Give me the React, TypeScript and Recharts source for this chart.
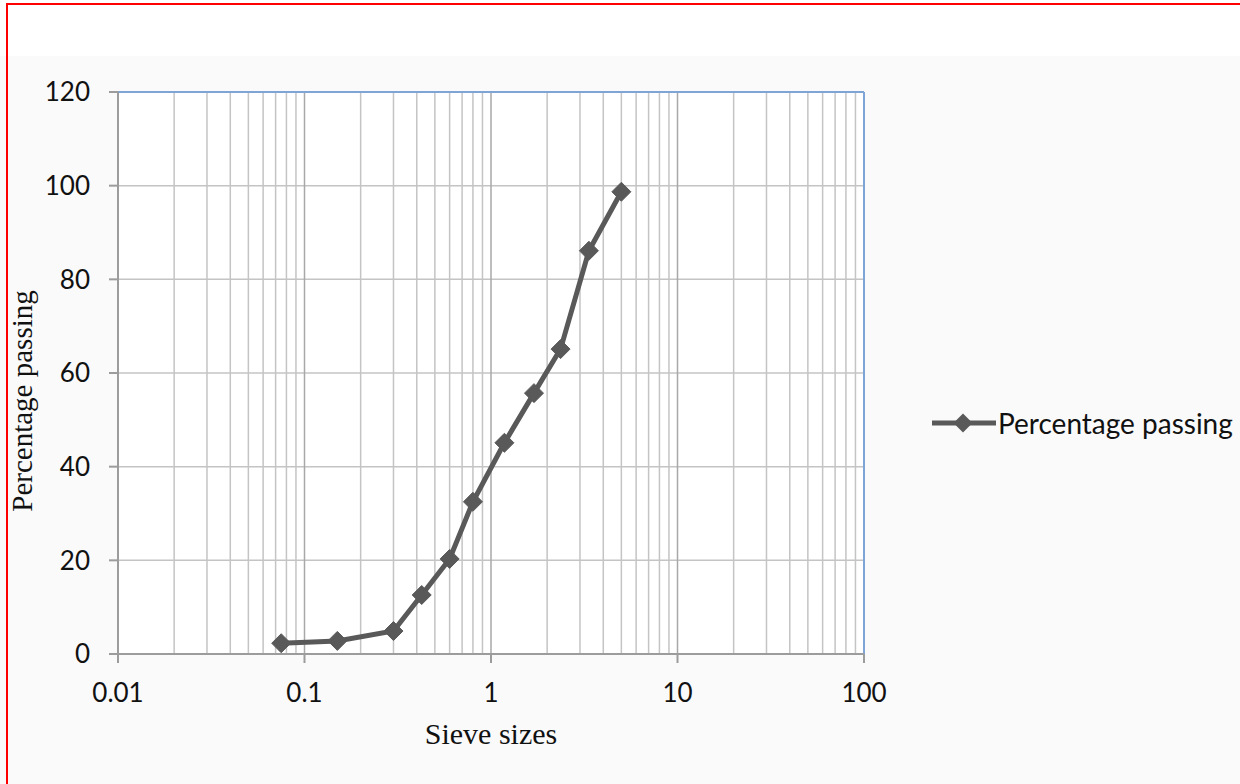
import React from 'react';
import { LineChart, Line, XAxis, YAxis, CartesianGrid, ReferenceLine, Label } from 'recharts';

// sieve analysis: size (mm) vs percentage passing
const sieveSizes = [0.075, 0.15, 0.3, 0.425, 0.6, 0.8, 1.18, 1.7, 2.36, 3.35, 5];
const percentPassing = [2.3, 2.8, 4.9, 12.6, 20.3, 32.5, 45.1, 55.7, 65.1, 86.1, 98.7];

const xTicks = [0.01, 0.1, 1, 10, 100];
const yTicks = [0, 20, 40, 60, 80, 100, 120];
const decades = [0.01, 0.1, 1, 10];
const minorSteps = [2, 3, 4, 5, 6, 7, 8, 9];

const data = sieveSizes.map((size, i) => ({ size, pct: percentPassing[i] }));
const minorLines = decades.flatMap((d) => minorSteps.map((m) => +(d * m).toPrecision(3)));

const lineColor = '#595959';
const gridColor = '#c4c4c4';
const axisColor = '#9c9c9c';
const borderBlue = '#7fa5d6';
const tickStyle = { fontFamily: 'Lato, sans-serif', fontSize: 26, fill: '#111' };

const Diamond = (props: any) => {
  const { cx, cy } = props;
  if (cx == null || cy == null) return null;
  const r = 9.5;
  return (
    <polygon
      points={`${cx},${cy - r} ${cx + r},${cy} ${cx},${cy + r} ${cx - r},${cy}`}
      fill={lineColor}
      stroke={lineColor}
    />
  );
};

const App = () => {
  return (
    <div
      style={{
        position: 'absolute',
        left: 0,
        top: 0,
        width: 1240,
        height: 784,
        background: 'linear-gradient(#ffffff 0px, #ffffff 56px, #fafafa 56px)',
        overflow: 'hidden',
      }}
    >
      <div
        style={{
          position: 'absolute',
          left: 6,
          top: 3,
          width: 1240,
          height: 800,
          borderLeft: '2px solid #ff0000',
          borderTop: '2px solid #ff0000',
          pointerEvents: 'none',
          zIndex: 2,
        }}
      />
      <LineChart
        width={1240}
        height={784}
        data={data}
        margin={{ top: 92, right: 376, bottom: 70, left: 38 }}
      >
        <CartesianGrid vertical={false} stroke={gridColor} strokeWidth={1.5} fill="#ffffff" />
        {minorLines.map((v) => (
          <ReferenceLine key={'m' + v} x={v} stroke={gridColor} strokeWidth={1.5} />
        ))}
        {xTicks.slice(1, 4).map((v) => (
          <ReferenceLine key={'d' + v} x={v} stroke="#a8a8a8" strokeWidth={1.5} />
        ))}
        <ReferenceLine y={120} stroke={borderBlue} strokeWidth={2} />
        <ReferenceLine x={100} stroke={borderBlue} strokeWidth={2} />
        <XAxis
          dataKey="size"
          type="number"
          scale="log"
          domain={[0.01, 100]}
          ticks={xTicks}
          allowDataOverflow
          height={60}
          stroke={axisColor}
          strokeWidth={2}
          tickSize={9}
          tickMargin={21}
          tick={tickStyle}
          tickFormatter={(v: number) => String(v)}
        >
          <Label
            content={({ viewBox }: any) => (
              <text
                x={viewBox.x + viewBox.width / 2}
                y={viewBox.y + 90}
                textAnchor="middle"
                fontFamily="'Liberation Serif', serif"
                fontSize={30}
                fill="#111"
              >
                Sieve sizes
              </text>
            )}
          />
        </XAxis>
        <YAxis
          type="number"
          domain={[0, 120]}
          ticks={yTicks}
          width={80}
          stroke={axisColor}
          strokeWidth={2}
          tickSize={9}
          tickMargin={19}
          tick={tickStyle}
        >
          <Label
            content={({ viewBox }: any) => {
              const x = 32;
              const y = viewBox.y + viewBox.height / 2 + 28;
              return (
                <text
                  x={x}
                  y={y}
                  transform={`rotate(-90 ${x} ${y})`}
                  textAnchor="middle"
                  fontFamily="'Liberation Serif', serif"
                  fontSize={29}
                  fill="#111"
                >
                  Percentage passing
                </text>
              );
            }}
          />
        </YAxis>
        <Line
          dataKey="pct"
          name="Percentage passing"
          stroke={lineColor}
          strokeWidth={5}
          dot={<Diamond />}
          activeDot={false}
          isAnimationActive={false}
        />
      </LineChart>
      <div
        style={{
          position: 'absolute',
          left: 930,
          top: 406,
          display: 'flex',
          alignItems: 'center',
          fontFamily: 'Lato, sans-serif',
          fontSize: 28,
          color: '#111',
        }}
      >
        <svg width={68} height={30} style={{ display: 'block' }}>
          <line x1={2} y1={15} x2={66} y2={15} stroke={lineColor} strokeWidth={5} />
          <polygon points="33,5.5 42.5,15 33,24.5 23.5,15" fill={lineColor} />
        </svg>
        <span>Percentage passing</span>
      </div>
    </div>
  );
};

export default App;
